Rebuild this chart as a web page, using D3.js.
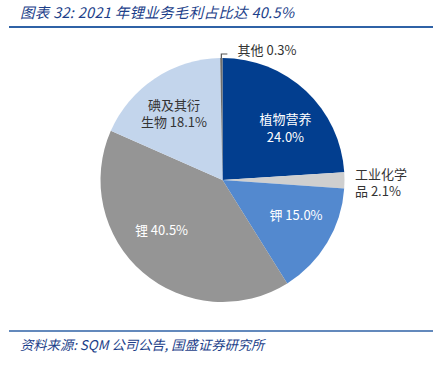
<!DOCTYPE html>
<html>
<head>
<meta charset="utf-8">
<script src="https://cdn.jsdelivr.net/npm/d3@7"></script>
<style>
  body { margin: 0; background: #fff; }
  text { font-family: "Noto Sans CJK SC", "Liberation Sans", sans-serif; }
</style>
</head>
<body>
<svg id="chart"></svg>
<script>
const width = 441, height = 369

// gross profit share by business, 2021
const categories = ["植物营养", "工业化学品", "钾", "锂", "碘及其衍生物", "其他"]
const values = [24.0, 2.1, 15.0, 40.5, 18.1, 0.3]
const label_lines = [
    ["植物营养", "24.0%"],
    ["工业化学", "品 2.1%"],
    ["钾 15.0%"],
    ["锂 40.5%"],
    ["碘及其衍", "生物 18.1%"],
    ["其他 0.3%"]
]
const colors = ["#023e8f", "#cfcfcf", "#5389cf", "#959595", "#c3d5ec", "#6d6d6d"]
const label_colors = ["#fff", "#333", "#fff", "#fff", "#333", "#333"]

let svg = d3.select("#chart")
    .attr("width", width)
    .attr("height", height)

// title
svg.append("text")
    .attr("x", 20)
    .attr("y", 18)
    .attr("font-size", 14.5)
    .attr("font-style", "italic")
    .attr("letter-spacing", 0.3)
    .attr("fill", "#1d3f8a")
    .text("图表 32:  2021 年锂业务毛利占比达 40.5%")

svg.append("line")
    .attr("x1", 9).attr("x2", 433)
    .attr("y1", 27).attr("y2", 27)
    .attr("stroke", "#2f62a6")
    .attr("stroke-width", 2)

svg.append("line")
    .attr("x1", 9).attr("x2", 433)
    .attr("y1", 331).attr("y2", 331)
    .attr("stroke", "#2f62a6")
    .attr("stroke-width", 1.5)

svg.append("text")
    .attr("x", 20)
    .attr("y", 350)
    .attr("font-size", 13.3)
    .attr("font-style", "italic")
    .attr("fill", "#1d3f8a")
    .text("资料来源:  SQM 公司公告,  国盛证券研究所")

// pie
let cx = 222.5, cy = 180, r = 122
let data = categories.map((c, i) => ({ name: c, value: values[i], idx: i }))

let pie = d3.pie().sort(null).value(d => d.value)
let arcs = pie(data)
let arc = d3.arc().innerRadius(0).outerRadius(r)

let g = svg.append("g").attr("transform", `translate(${cx},${cy})`)

g.selectAll("path")
    .data(arcs)
    .enter()
    .append("path")
    .attr("d", arc)
    .attr("fill", d => colors[d.data.idx])

// labels: polar anchor (fraction of radius) + pixel nudges
let label_r = [0.65, 1.1, 0.65, 0.65, 0.65, 1.1]
let label_offsets = [[8.7, 6.3], [-1.7, 2.6], [5.5, -4.8], [-9.1, -9.3], [-4.6, 0], [16.3, 4.7]]
let line_gap = 17.5

arcs.forEach((a, i) => {
    let ang = (a.startAngle + a.endAngle) / 2
    let x = Math.sin(ang) * r * label_r[i] + label_offsets[i][0]
    let y = -Math.cos(ang) * r * label_r[i] + label_offsets[i][1]
    let lines = label_lines[i]
    let outside = label_r[i] > 1
    let t = g.append("text")
        .attr("font-size", 13)
        .attr("fill", label_colors[i])
        .attr("text-anchor", outside ? "start" : "middle")
    lines.forEach((ln, k) => {
        t.append("tspan")
            .attr("x", x)
            .attr("y", y + (k - (lines.length - 1) / 2) * line_gap + 4.5)
            .text(ln)
    })
})

// leader line for the tiny slice
let other = arcs[5]
let oang = (other.startAngle + other.endAngle) / 2
let ox = Math.sin(oang) * r, oy = -Math.cos(oang) * r
g.append("path")
    .attr("d", `M${ox},${oy} L${ox},${oy - 4} L${ox + 6},${oy - 4}`)
    .attr("fill", "none")
    .attr("stroke", "#555")
    .attr("stroke-width", 1.2)
</script>
</body>
</html>
